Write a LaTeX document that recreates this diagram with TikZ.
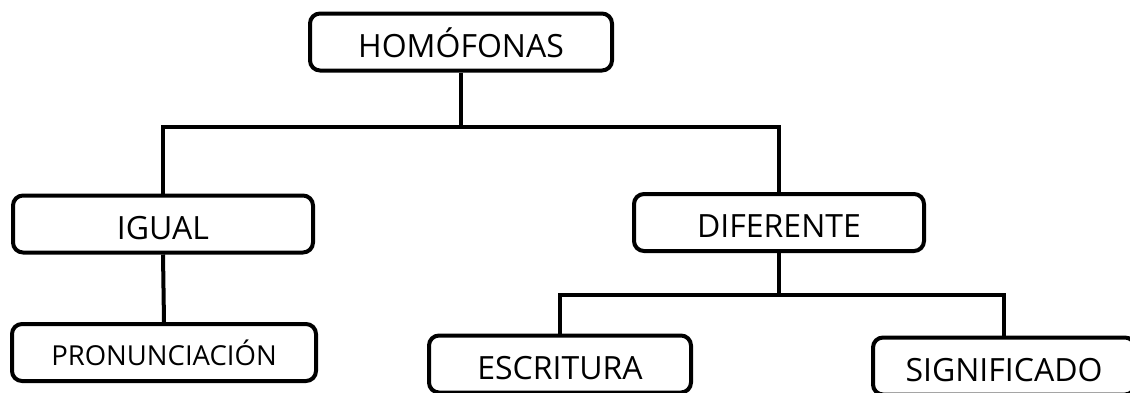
\documentclass[tikz,border=0pt]{standalone}
\usepackage{fontspec}
\setmainfont{Open Sans}
\begin{document}
\begin{tikzpicture}[x=1pt,y=-1pt,
  caja/.style={draw,line width=4pt,rounded corners=10pt,inner sep=0pt,
    minimum height=57pt,text height=30pt,text depth=0pt,
    font=\fontsize{32}{32}\selectfont},
  linea/.style={line width=4pt}]
\useasboundingbox (0,0) rectangle (1130,392);
%cajas
\node[caja,minimum width=302pt] (hom) at (461,42) {HOMÓFONAS};
\node[caja,minimum width=300pt] (igual) at (163,224) {IGUAL};
\node[caja,minimum width=304pt,text height=26pt,font=\fontsize{27.5}{27.5}\selectfont] (pron) at (164,352.5) {PRONUNCIACIÓN};
\node[caja,minimum width=290pt] (dif) at (779,222.5) {DIFERENTE};
\node[caja,minimum width=262pt] (esc) at (560,364) {ESCRITURA};
\node[caja,minimum width=262pt] (sig) at (1004,366) {SIGNIFICADO};
%uniones
\coordinate (jt) at (461,127);
\coordinate (jb) at (779,295);
\draw[linea] (hom.south) -- (jt);
\draw[linea] (igual.north) |- (jt) -| (dif.north);
\draw[linea] (igual.south) -- (pron.north);
\draw[linea] (dif.south) -- (jb);
\draw[linea] (esc.north) |- (jb) -| (sig.north);
\end{tikzpicture}
\end{document}
